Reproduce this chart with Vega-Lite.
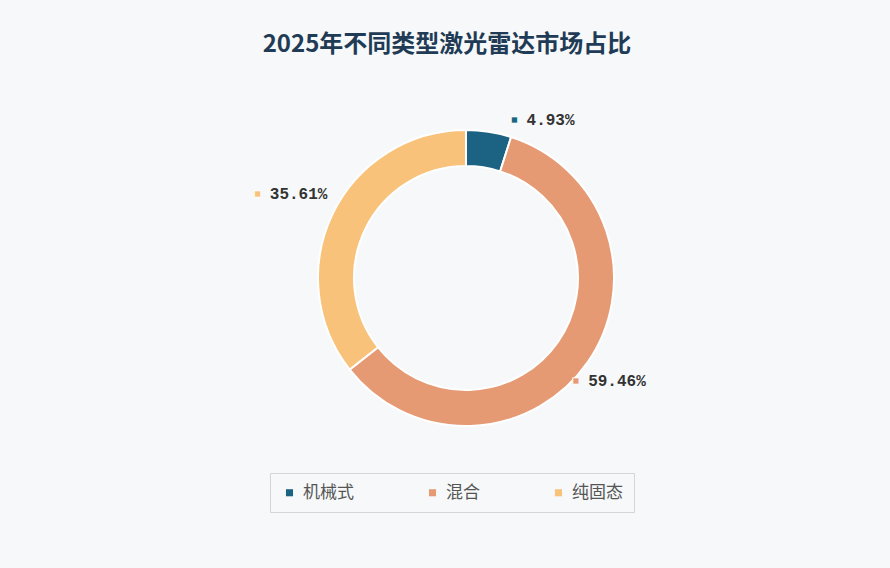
{
  "$schema": "https://vega.github.io/schema/vega-lite/v6.json",
  "width": 848,
  "height": 416,
  "autosize": {"type": "none"},
  "padding": {"left": 42, "top": 70, "right": 0, "bottom": 82},
  "background": "#f6f8f9",
  "title": {
    "text": "2025年不同类型激光雷达市场占比",
    "font": "Noto Sans CJK SC",
    "fontSize": 24,
    "fontWeight": "bold",
    "color": "#1f3b55",
    "anchor": "middle",
    "dx": -19,
    "offset": 13
  },
  "config": {"view": {"stroke": null}},
  "data": {
    "values": [
      {"type": "机械式", "share": 4.93, "label": "4.93%"},
      {"type": "混合", "share": 59.46, "label": "59.46%"},
      {"type": "纯固态", "share": 35.61, "label": "35.61%"}
    ]
  },
  "encoding": {
    "theta": {"field": "share", "type": "quantitative", "stack": true},
    "order": {"field": "type", "type": "nominal", "sort": "ascending"}
  },
  "layer": [
    {
      "mark": {
        "type": "arc",
        "outerRadius": 148,
        "innerRadius": 112,
        "stroke": "#ffffff",
        "strokeWidth": 2
      },
      "encoding": {
        "color": {
          "field": "type",
          "type": "nominal",
          "sort": ["机械式", "混合", "纯固态"],
          "scale": {
            "domain": ["机械式", "混合", "纯固态"],
            "range": ["#1b6283", "#e59a74", "#f8c27a"]
          },
          "legend": {
            "title": null,
            "orient": "none",
            "legendX": 228,
            "legendY": 403,
            "direction": "horizontal",
            "columns": 3,
            "columnPadding": 70,
            "padding": 11,
            "strokeColor": "#d3d6d9",
            "symbolType": "square",
            "symbolSize": 50,
            "symbolStrokeWidth": 0,
            "labelFont": "Noto Sans CJK SC",
            "labelFontSize": 17,
            "labelColor": "#555555",
            "labelOffset": 5
          }
        }
      }
    },
    {
      "mark": {
        "type": "text",
        "text": "■",
        "radius": 185,
        "fontSize": 13,
        "align": "center",
        "baseline": "middle",
        "stroke": "#ffffff",
        "strokeWidth": 0.8,
        "dx": {"expr": "datum.type === '机械式' ? 20 : -42"},
        "dy": {"expr": "datum.type === '机械式' ? 25 : -3"}
      },
      "encoding": {
        "color": {"field": "type", "type": "nominal", "sort": ["机械式", "混合", "纯固态"]}
      }
    },
    {
      "mark": {
        "type": "text",
        "radius": 185,
        "font": "Liberation Mono",
        "fontSize": 16,
        "fontWeight": "bold",
        "align": "center",
        "baseline": "middle",
        "dx": {"expr": "datum.type === '机械式' ? 56 : -1"},
        "dy": {"expr": "datum.type === '机械式' ? 25 : -3"}
      },
      "encoding": {
        "text": {"field": "label"},
        "color": {"value": "#333333"}
      }
    }
  ]
}
